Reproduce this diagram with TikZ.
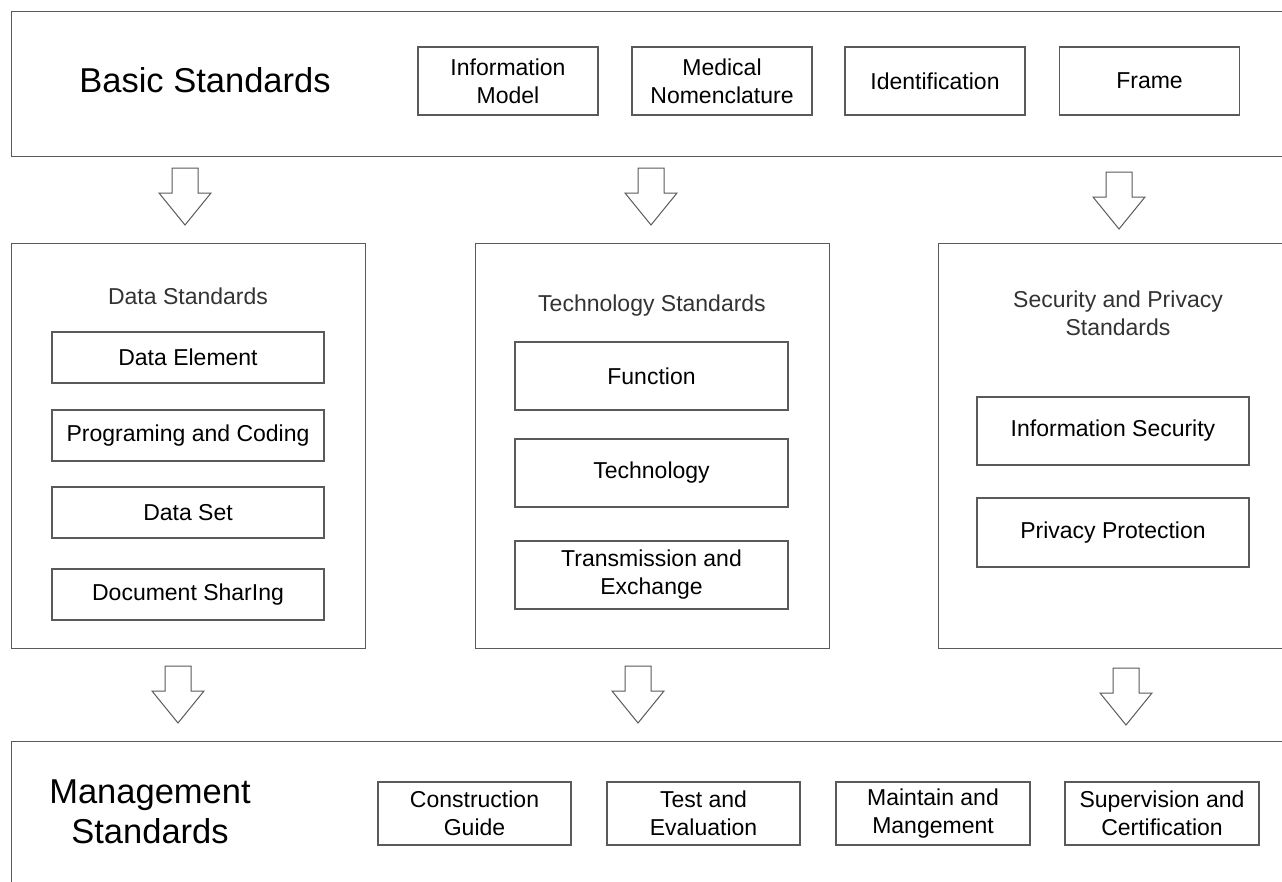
\documentclass[tikz,border=0pt]{standalone}
\usepackage{fontspec}
\setmainfont{Liberation Sans}
\definecolor{lineg}{HTML}{5A5A5A}
\definecolor{titleg}{HTML}{333333}
\newcommand\blockdown[2]{%
  \draw[blockarrow] (#1-13,#2) -- (#1+13,#2) -- (#1+13,#2+25) -- (#1+26,#2+25)
    -- (#1,#2+57) -- (#1-26,#2+25) -- (#1-13,#2+25) -- cycle;}
\begin{document}
\begin{tikzpicture}[x=1pt,y=-1pt,
  outer/.style={draw=lineg, line width=1.2pt, fill=white, anchor=north west, inner sep=0pt},
  sbox/.style={draw=lineg, line width=1.2pt, fill=white, inner sep=0pt, align=center,
    font=\fontsize{23}{28}\selectfont},
  topb/.style={sbox, minimum width=180pt, minimum height=68pt},
  datab/.style={sbox, minimum width=272pt, minimum height=51pt},
  techb/.style={sbox, minimum width=273pt, minimum height=68pt},
  botb/.style={sbox, minimum width=193pt, minimum height=63pt},
  bigtitle/.style={align=center, font=\fontsize{34.5}{40}\selectfont},
  sectitle/.style={align=center, text=titleg, font=\fontsize{23}{28}\selectfont},
  blockarrow/.style={draw=lineg, line width=1pt, fill=white, line join=miter}]
\useasboundingbox (0,0) rectangle (1282,881);
\clip (0,0) rectangle (1282,881);
\fill[white] (0,0) rectangle (1282,881);

% outer frames
\node[outer, minimum width=1290pt, minimum height=145pt] (basic) at (11,11) {};
\node[outer, minimum width=354pt, minimum height=405pt] (data) at (11,243) {};
\node[outer, minimum width=354pt, minimum height=405pt] (tech) at (475,243) {};
\node[outer, minimum width=360pt, minimum height=405pt] (sec) at (938,243) {};
\node[outer, minimum width=1290pt, minimum height=160pt] (mgmt) at (11,741) {};

% basic standards
\node[bigtitle] (basict) at (205,80) {Basic Standards};
\node[topb] (im) at (508,81) {Information\\Model};
\node[topb] (mn) at (722,81) {Medical\\Nomenclature};
\node[topb] (id) at (935,81) {Identification};
\node[topb] (fr) at (1149.5,81) {Frame};

% data standards
\node[sectitle] (datat) at (188,296) {Data Standards};
\node[datab] (de) at (188,357.5) {Data Element};
\node[datab] (pc) at (188,435.5) {Programing and Coding};
\node[datab] (ds) at (188,512.5) {Data Set};
\node[datab] (dsh) at (188,594.5) {Document SharIng};

% technology standards
\node[sectitle] (techt) at (652,306) {Technology Standards};
\node[techb] (fn) at (651.5,376) {Function};
\node[techb] (te) at (651.5,473) {Technology};
\node[techb] (tr) at (651.5,575) {Transmission and\\Exchange};

% security standards
\node[sectitle] (sect) at (1118,313) {Security and Privacy\\Standards};
\node[techb, minimum width=272pt] (is) at (1113,431) {Information Security};
\node[techb, minimum width=272pt, minimum height=69pt] (pp) at (1113,532.5) {Privacy Protection};

% management standards
\node[bigtitle] (mgmtt) at (150,812) {Management\\Standards};
\node[botb] (cg) at (474.5,813.5) {Construction\\Guide};
\node[botb] (tev) at (703.5,813.5) {Test and\\Evaluation};
\node[botb, minimum width=194pt] (mm) at (933,813.5) {Maintain and\\Mangement};
\node[botb, minimum width=194pt] (sc) at (1162,813.5) {Supervision and\\Certification};

% block arrows
\blockdown{185}{168}
\blockdown{651}{168}
\blockdown{1119}{172}
\blockdown{178}{666}
\blockdown{638}{666}
\blockdown{1126}{668}
\end{tikzpicture}
\end{document}
